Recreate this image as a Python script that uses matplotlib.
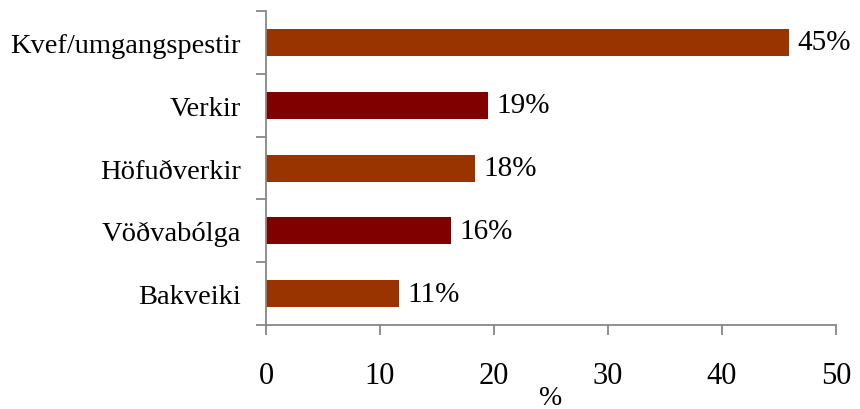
import numpy as np
import matplotlib
matplotlib.use("Agg")
import matplotlib.pyplot as plt

# categories listed top to bottom as in the chart
categories = ["Kvef/umgangspestir", "Verkir", "Höfuðverkir", "Vöðvabólga", "Bakveiki"]
values = [45.9, 19.5, 18.3, 16.2, 11.7]
value_labels = ["45%", "19%", "18%", "16%", "11%"]
bar_colors = ["#993300", "#800000", "#993300", "#800000", "#993300"]
x_ticks = [0, 10, 20, 30, 40, 50]

plt.rcParams["font.family"] = ["Liberation Serif", "DejaVu Serif"]
AXIS_GREY = "#878787"

fig = plt.figure(figsize=(8.6, 4.1), dpi=100)
ax = fig.add_axes([0.3093, 0.2049, 0.9721 - 0.3093, 0.9707 - 0.2049])

y = np.arange(len(categories))[::-1]
ax.barh(y, values, height=0.43, color=bar_colors, zorder=2)

for yi, v, lab in zip(y, values, value_labels):
    ax.annotate(lab, (v, yi), xytext=(6, 0), textcoords="offset points",
                va="center", ha="left", fontsize=21)

ax.set_xlim(0, 50)
ax.set_ylim(-0.5, len(categories) - 0.5)
ax.set_xticks(x_ticks)
ax.set_xticklabels([str(t) for t in x_ticks], fontsize=22)
ax.set_yticks(y)
ax.set_yticklabels(categories, fontsize=20.5)
ax.set_yticks(np.arange(-0.5, len(categories), 1.0), minor=True)

ax.tick_params(axis="y", which="major", length=0, pad=18)
ax.tick_params(axis="y", which="minor", length=7, width=1.3, color=AXIS_GREY, direction="out")
ax.tick_params(axis="x", which="major", length=7, width=1.3, color=AXIS_GREY, direction="out", pad=19)

for s in ["top", "right"]:
    ax.spines[s].set_visible(False)
for s in ["left", "bottom"]:
    ax.spines[s].set_color(AXIS_GREY)
    ax.spines[s].set_linewidth(1.3)

ax.set_xlabel("%", fontsize=20, labelpad=-4)

fig.savefig("out.png", dpi=100)
